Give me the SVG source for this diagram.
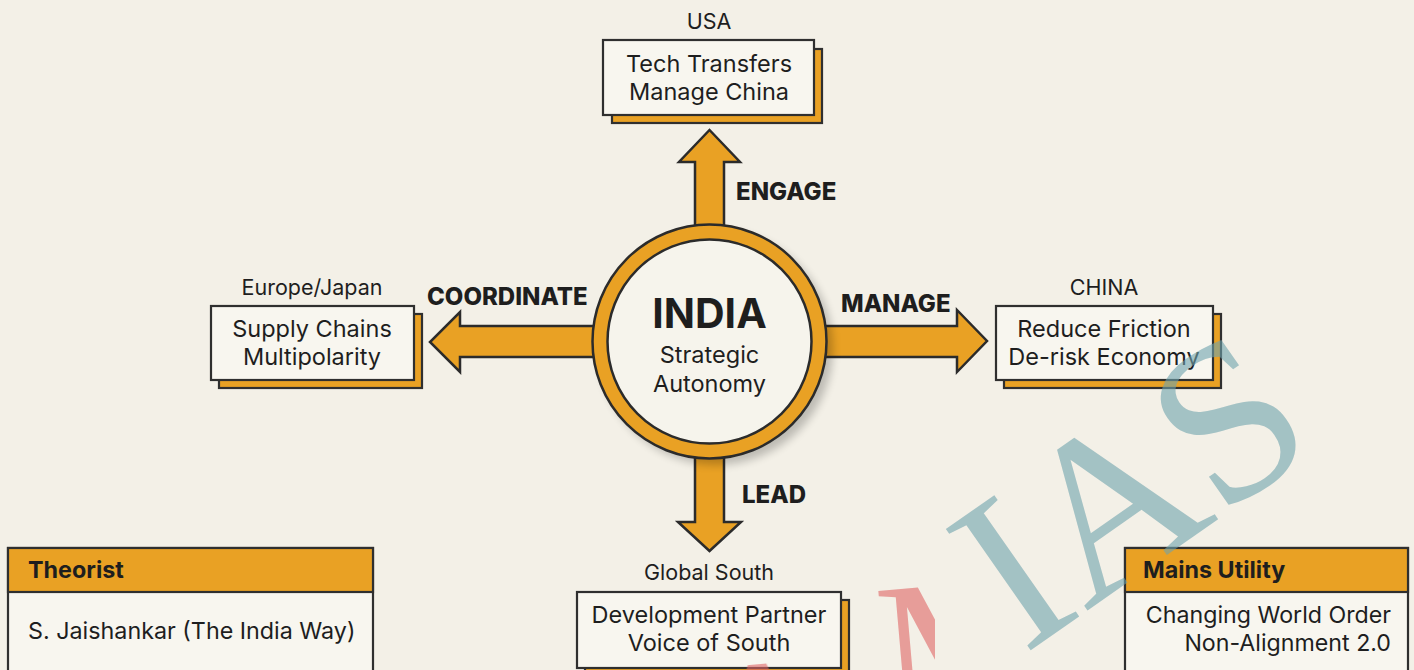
<svg xmlns="http://www.w3.org/2000/svg" width="1414" height="670" viewBox="0 0 1414 670">
<defs>
<style>
.bg{fill:#f3f0e7}
.arrow{fill:#e9a124;stroke:#2b2b2b;stroke-width:2.5;stroke-linejoin:miter}
.front{fill:#f8f6ef;stroke:#2f2f2f;stroke-width:2.2}
.back{fill:#e9a124;stroke:#2f2f2f;stroke-width:2.2}
.t{font-family:Inter,"Noto Sans","Liberation Sans",sans-serif;fill:#1e1e1e}
.lbl{font-size:21.5px;text-anchor:middle}
.body{font-size:23.5px;text-anchor:middle}
.verb{font-size:24px;font-weight:800}
.hdr{font-size:23.3px;font-weight:700}
.wm{font-family:"Liberation Serif","DejaVu Serif",serif}
</style>
<filter id="sh" x="-20%" y="-20%" width="140%" height="140%">
<feGaussianBlur stdDeviation="4"/>
</filter>
<clipPath id="pinkclip">
<rect x="740" y="565" width="195" height="105"/>
</clipPath>
</defs>
<rect class="bg" x="0" y="0" width="1414" height="670"/>

<g id="connectors">
<polygon class="arrow" points="695,235 695,162 679,162 709.5,130 740,162 724,162 724,235"/>
<polygon class="arrow" points="600,326 460,326 460,312 430,342 460,372 460,357 600,357"/>
<polygon class="arrow" points="820,326 957,326 957,310 987,341 957,372 957,357 820,357"/>
<polygon class="arrow" points="695,450 695,522 678,522 709.5,551 741,522 724,522 724,450"/>
<text class="t verb" x="736" y="200">ENGAGE</text>
<text class="t verb" x="427" y="305">COORDINATE</text>
<text class="t verb" x="841" y="312">MANAGE</text>
<text class="t verb" x="742" y="503">LEAD</text>
</g>

<g id="india">
<circle cx="716" cy="348" r="117" fill="#000" opacity="0.22" filter="url(#sh)"/>
<circle cx="709.5" cy="341.5" r="117" fill="#e9a124" stroke="#2b2b2b" stroke-width="2.5"/>
<circle cx="709.5" cy="341.5" r="102" fill="#f6f4ec" stroke="#2b2b2b" stroke-width="2.5"/>
<text class="t" x="709.5" y="328" text-anchor="middle" font-size="41" font-weight="700" fill="#2a2a2a">INDIA</text>
<text class="t body" x="709.5" y="363">Strategic</text>
<text class="t body" x="709.5" y="392">Autonomy</text>
</g>

<g id="usa">
<text class="t lbl" x="709" y="29">USA</text>
<rect class="back" x="612" y="49" width="210" height="74"/>
<rect class="front" x="603" y="40" width="211" height="75"/>
<text class="t body" x="709" y="72">Tech Transfers</text>
<text class="t body" x="709" y="100">Manage China</text>
</g>

<g id="europe">
<text class="t lbl" x="312" y="295">Europe/Japan</text>
<rect class="back" x="219" y="314" width="203" height="74"/>
<rect class="front" x="211" y="306" width="203" height="74"/>
<text class="t body" x="312" y="337">Supply Chains</text>
<text class="t body" x="312" y="365">Multipolarity</text>
</g>

<g id="china">
<text class="t lbl" x="1104" y="295">CHINA</text>
<rect class="back" x="1004" y="314" width="217" height="74"/>
<rect class="front" x="996" y="306" width="217" height="74"/>
<text class="t body" x="1104" y="337">Reduce Friction</text>
<text class="t body" x="1104" y="365">De-risk Economy</text>
</g>

<g id="global-south">
<text class="t lbl" x="709" y="580">Global South</text>
<rect class="back" x="585" y="600" width="264" height="80"/>
<rect class="front" x="577" y="592" width="264" height="76"/>
<text class="t body" x="709" y="623">Development Partner</text>
<text class="t body" x="709" y="651">Voice of South</text>
</g>

<g id="theorist">
<rect x="8" y="548" width="365" height="130" fill="#f8f6ef" stroke="#2f2f2f" stroke-width="2.2"/>
<rect x="8" y="548" width="365" height="44" fill="#e9a124" stroke="#2f2f2f" stroke-width="2.2"/>
<text class="t hdr" x="28" y="578">Theorist</text>
<text class="t" x="28" y="639" font-size="23.3">S. Jaishankar (The India Way)</text>
</g>

<g id="mains-utility">
<rect x="1125" y="548" width="283" height="130" fill="#f8f6ef" stroke="#2f2f2f" stroke-width="2.2"/>
<rect x="1125" y="548" width="283" height="44" fill="#e9a124" stroke="#2f2f2f" stroke-width="2.2"/>
<text class="t hdr" x="1143" y="578">Mains Utility</text>
<text class="t" x="1391" y="623" font-size="23.2" text-anchor="end">Changing World Order</text>
<text class="t" x="1391" y="651" font-size="23.2" text-anchor="end">Non-Alignment 2.0</text>
</g>

<g id="watermark" opacity="0.6">
<text class="wm" x="0" y="0" font-size="226" fill="#6fa3ad" transform="translate(1024 655) rotate(-35)">IAS</text>
<g clip-path="url(#pinkclip)">
<text class="wm" x="0" y="0" font-size="200" fill="#e06666" transform="translate(884 722) rotate(-5)">M</text>
<text class="wm" x="0" y="0" font-size="200" fill="#e06666" transform="translate(698 801) rotate(-5)">A</text>
</g>
</g>
</svg>
